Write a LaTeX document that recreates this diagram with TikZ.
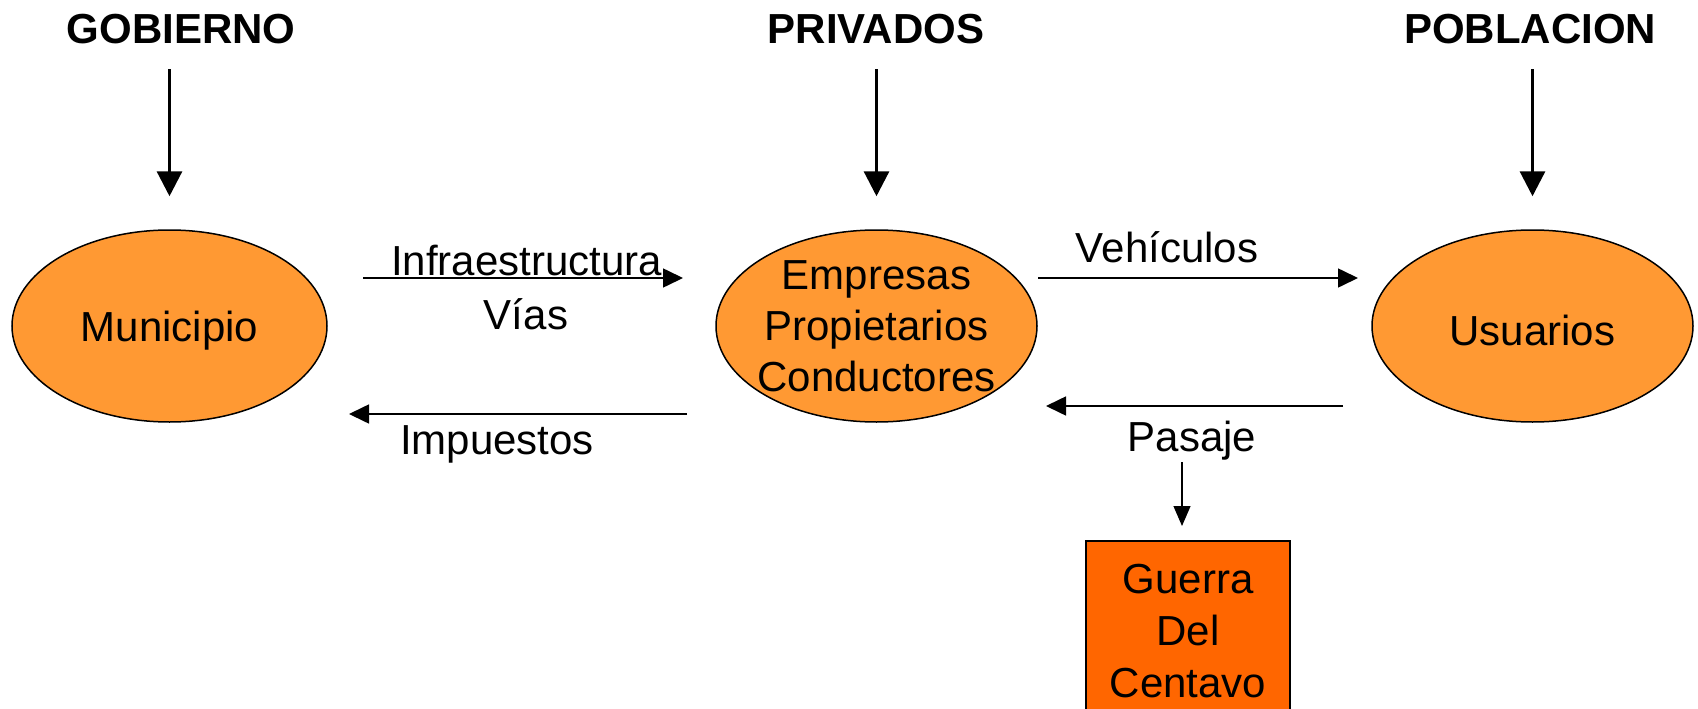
\documentclass[tikz,border=0pt]{standalone}
\usepackage{fontspec}
\setmainfont{Liberation Sans}
\usetikzlibrary{arrows.meta,shapes.geometric}
\definecolor{lightor}{HTML}{FF9933}
\definecolor{darkor}{HTML}{FF6600}
\begin{document}
\begin{tikzpicture}[x=1pt,y=-1pt,
  txt/.style={font=\fontsize{42}{51}\selectfont, inner sep=0pt},
  head/.style={font=\bfseries\fontsize{42}{49}\selectfont, inner sep=0pt, anchor=base},
  lbl/.style={txt, anchor=base},
  oval/.style={ellipse, draw=black, line width=1.5pt, fill=lightor, minimum width=321pt, minimum height=192pt, inner sep=0pt},
  bigarrow/.style={line width=3.2pt, -{Triangle[length=25pt,width=25pt]}},
  flow/.style={line width=1.6pt, -{Triangle[length=20pt,width=19pt]}},
  thinflow/.style={line width=1.2pt, -{Triangle[length=20pt,width=17pt]}}]
\useasboundingbox (0,0) rectangle (1698,709);

% top headings
\node[head] (gob) at (181,44) {GOBIERNO};
\node[head] (priv) at (876,44) {PRIVADOS};
\node[head] (pob) at (1530,44) {POBLACION};

% ovals
\node[oval, minimum width=315pt, label={[txt,yshift=-4.5pt]center:Municipio}] (mun) at (169.5,326) {};
\node[oval, label={[txt,align=center,yshift=-0.5pt]center:{Empresas\\Propietarios\\Conductores}}] (emp) at (876.5,326) {};
\node[oval, label={[txt,yshift=-4.5pt]center:Usuarios}] (usu) at (1532.5,326) {};

% box
\node[draw=black, line width=1.5pt, fill=darkor, minimum width=204pt, minimum height=180pt,
      align=center, font=\fontsize{42}{52}\selectfont, inner sep=0pt] (gue) at (1188,631)
      {Guerra\\Del\\Centavo};

% vertical arrows
\draw[bigarrow] ([yshift=160pt]mun.north) -- ([yshift=33pt]mun.north);
\draw[bigarrow] ([yshift=160pt]emp.north) -- ([yshift=33pt]emp.north);
\draw[bigarrow] ([yshift=160pt]usu.north) -- ([yshift=33pt]usu.north);

% horizontal flows
\coordinate (infS) at (363,278);
\coordinate (infE) at (683,278);
\coordinate (impS) at (687,414);
\coordinate (impE) at (349,414);
\coordinate (vehS) at (1038,278);
\coordinate (vehE) at (1358,278);
\coordinate (pasS) at (1343,406);
\coordinate (pasE) at (1046,406);
\coordinate (dnS) at (1182,462);
\coordinate (dnE) at (1182,526);

\draw[flow] (infS) -- (infE);
\draw[flow] (impS) -- (impE);
\draw[flow] (vehS) -- (vehE);
\draw[flow] (pasS) -- (pasE);
\draw[thinflow] (dnS) -- (dnE);

% labels
\node[lbl] (linf) at (526.5,275) {Infraestructura};
\node[lbl] (lvia) at (526,329) {Vías};
\node[lbl] (limp) at (497,454) {Impuestos};
\node[lbl] (lveh) at (1167,262) {Vehículos};
\node[lbl] (lpas) at (1192,451) {Pasaje};
\end{tikzpicture}
\end{document}
